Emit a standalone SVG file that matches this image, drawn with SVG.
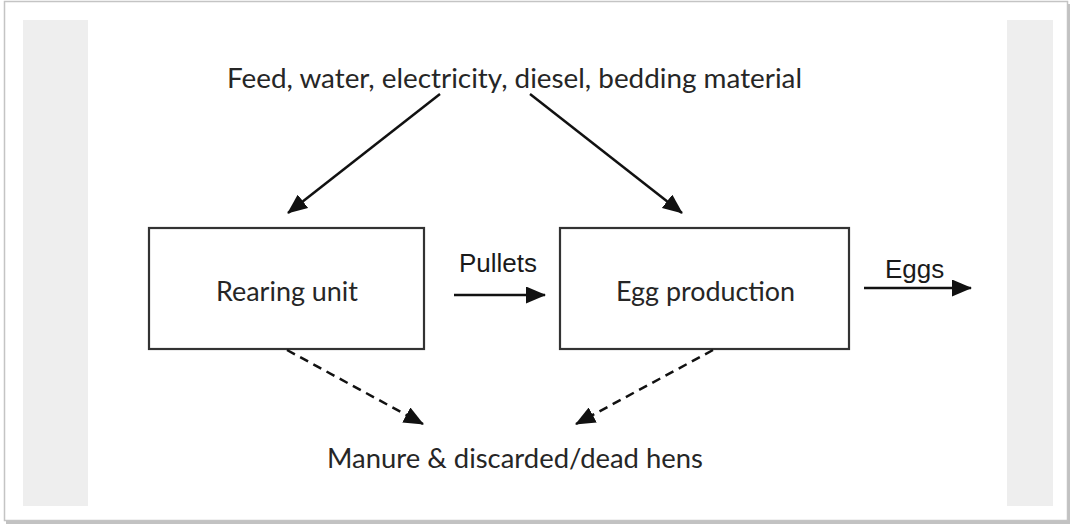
<svg xmlns="http://www.w3.org/2000/svg" width="1071" height="525" viewBox="0 0 1071 525">
<style>
.box{fill:#fff;stroke:#333;stroke-width:2.2}
.cal{font-family:Lato,"Open Sans","Liberation Sans",sans-serif;font-size:27px;fill:#262626}
.ari{font-family:"Liberation Sans",Arial,sans-serif;font-size:26px;fill:#1a1a1a}
.ln{stroke:#111;stroke-width:2.5;fill:none}
.dash{stroke-dasharray:9 6}
.panel{fill:#eeeeee}
</style>
<defs>
<marker id="ah" markerUnits="userSpaceOnUse" markerWidth="20" markerHeight="17" refX="19" refY="8.5" orient="auto" viewBox="0 0 20 17">
<path d="M0,0 L20,8.5 L0,17 Z" fill="#111"/>
</marker>
</defs>
<g id="frame">
<rect x="0" y="0" width="1071" height="525" fill="#fff"/>
<rect x="6" y="4" width="1064" height="520" fill="#9a9a9a" opacity="0.6"/>
<rect x="4.5" y="1.5" width="1063" height="519" fill="#fff" stroke="#c4c4c4" stroke-width="1.5"/>
<rect class="panel" x="23" y="20" width="65" height="486"/>
<rect class="panel" x="1007" y="20" width="46" height="486"/>
</g>
<g id="inputs">
<text class="cal" x="227" y="88" textLength="575" lengthAdjust="spacingAndGlyphs">Feed, water, electricity, diesel, bedding material</text>
</g>
<g id="rearing">
<rect class="box" x="149" y="228" width="275" height="121"/>
<text class="cal" x="216" y="301" textLength="142" lengthAdjust="spacingAndGlyphs">Rearing unit</text>
</g>
<g id="egg">
<rect class="box" x="560" y="228" width="289" height="121"/>
<text class="cal" x="616" y="301" textLength="179" lengthAdjust="spacingAndGlyphs">Egg production</text>
</g>
<g id="waste">
<text class="cal" x="327" y="468" textLength="376" lengthAdjust="spacingAndGlyphs">Manure &amp; discarded/dead hens</text>
</g>
<g id="connectors">
<line class="ln" x1="440" y1="94" x2="288" y2="213" marker-end="url(#ah)"/>
<line class="ln" x1="530" y1="94" x2="682" y2="213" marker-end="url(#ah)"/>
<line class="ln" x1="454" y1="295" x2="545" y2="295" marker-end="url(#ah)"/>
<text class="ari" x="459" y="272">Pullets</text>
<line class="ln" x1="864" y1="288" x2="971" y2="288" marker-end="url(#ah)"/>
<text class="ari" x="885" y="278">Eggs</text>
<line class="ln dash" x1="287" y1="350" x2="423" y2="424" marker-end="url(#ah)"/>
<line class="ln dash" x1="713" y1="350" x2="576" y2="424" marker-end="url(#ah)"/>
</g>
</svg>
